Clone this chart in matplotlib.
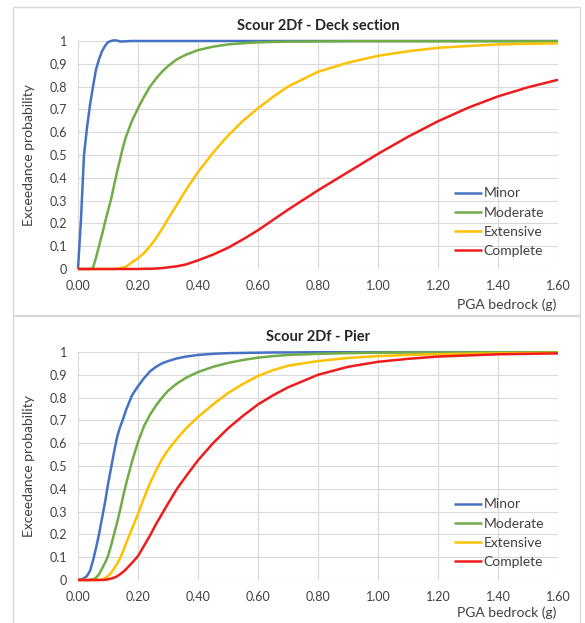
import matplotlib.pyplot as plt
from matplotlib.patches import Rectangle

plt.rcParams['font.family'] = ['Lato', 'DejaVu Sans']

# PGA bedrock (g) sample points
pga = [0, 0.01, 0.02, 0.03, 0.04, 0.05, 0.06, 0.07, 0.08, 0.09, 0.10, 0.11, 0.12,
       0.13, 0.14, 0.15, 0.16, 0.18, 0.20, 0.22, 0.24, 0.26, 0.28, 0.30, 0.33,
       0.36, 0.40, 0.45, 0.50, 0.55, 0.60, 0.65, 0.70, 0.80, 0.90, 1.00, 1.10,
       1.20, 1.30, 1.40, 1.50, 1.60]

# Deck section exceedance probabilities
deck_minor = [0, 0.22, 0.50, 0.62, 0.72, 0.80, 0.875, 0.92, 0.955, 0.978, 0.995, 1.0,
              1.003, 1.002, 0.998, 0.998, 0.999] + [1.0] * 25
deck_moderate = [0, 0, 0, 0, 0, 0.005, 0.05, 0.10, 0.15, 0.205, 0.255, 0.305, 0.365,
                 0.425, 0.48, 0.535, 0.58, 0.65, 0.705, 0.755, 0.80, 0.835, 0.865, 0.89,
                 0.92, 0.94, 0.96, 0.975, 0.985, 0.99, 0.994, 0.996, 0.997, 0.998, 0.999,
                 0.999, 0.999, 0.999, 0.999, 0.999, 0.999, 0.999]
deck_extensive = [0] * 13 + [0.001, 0.003, 0.006, 0.01, 0.03, 0.047, 0.07, 0.10, 0.135,
                             0.175, 0.22, 0.283, 0.347, 0.425, 0.51, 0.585, 0.65, 0.705,
                             0.755, 0.80, 0.865, 0.905, 0.935, 0.955, 0.97, 0.978, 0.985,
                             0.988, 0.99]
deck_complete = [0] * 19 + [0.001, 0.001, 0.002, 0.004, 0.007, 0.012, 0.02, 0.038, 0.063,
                            0.093, 0.13, 0.17, 0.215, 0.26, 0.345, 0.425, 0.505, 0.58,
                            0.648, 0.707, 0.757, 0.797, 0.83]

# Pier exceedance probabilities
pier_minor = [0, 0.003, 0.008, 0.018, 0.04, 0.085, 0.14, 0.20, 0.27, 0.34, 0.42, 0.49,
              0.56, 0.625, 0.67, 0.705, 0.745, 0.81, 0.85, 0.885, 0.915, 0.935, 0.95,
              0.96, 0.972, 0.98, 0.987, 0.992, 0.995, 0.996, 0.997, 0.998, 0.998] + [0.999] * 9
pier_moderate = [0, 0, 0, 0, 0, 0.003, 0.01, 0.025, 0.05, 0.075, 0.105, 0.15, 0.20,
                 0.25, 0.305, 0.365, 0.42, 0.52, 0.605, 0.675, 0.725, 0.765, 0.80, 0.83,
                 0.862, 0.887, 0.912, 0.935, 0.952, 0.965, 0.975, 0.982, 0.987, 0.992,
                 0.995, 0.997, 0.998, 0.998, 0.998, 0.999, 0.999, 0.999]
pier_extensive = [0] * 7 + [0.001, 0.003, 0.008, 0.018, 0.03, 0.05, 0.07, 0.095, 0.125,
                            0.16, 0.225, 0.29, 0.36, 0.425, 0.48, 0.53, 0.57, 0.62, 0.665,
                            0.715, 0.77, 0.82, 0.86, 0.895, 0.92, 0.94, 0.96, 0.974,
                            0.982, 0.987, 0.99, 0.992, 0.994, 0.995, 0.996]
pier_complete = [0] * 9 + [0.001, 0.003, 0.006, 0.01, 0.016, 0.025, 0.035, 0.047, 0.075,
                           0.105, 0.15, 0.195, 0.245, 0.29, 0.335, 0.40, 0.455, 0.525, 0.60,
                           0.665, 0.72, 0.77, 0.81, 0.845, 0.90, 0.935, 0.957, 0.97, 0.98,
                           0.985, 0.99, 0.992, 0.994]

labels = ['Minor', 'Moderate', 'Extensive', 'Complete']
colors = ['#4472C4', '#70AD47', '#FFC000', '#EE1C1C']
x_ticks = [0, 0.2, 0.4, 0.6, 0.8, 1.0, 1.2, 1.4, 1.6]
y_ticks = [0, 0.1, 0.2, 0.3, 0.4, 0.5, 0.6, 0.7, 0.8, 0.9, 1.0]

W, H = 585, 623
fig = plt.figure(figsize=(W / 100, H / 100), dpi=100)

# panel frames
for top, bot in [(7, 315), (316, 640)]:
    fig.add_artist(Rectangle((13 / W, 1 - bot / H), (580 - 13) / W, (bot - top) / H,
                             transform=fig.transFigure, fill=False,
                             edgecolor='#d9d9d9', lw=1))

panels = [
    ('Scour 2Df - Deck section', 269, 305,
     [deck_minor, deck_moderate, deck_extensive, deck_complete]),
    ('Scour 2Df - Pier', 580, 613,
     [pier_minor, pier_moderate, pier_extensive, pier_complete]),
]

for title, ybot, ylab, series in panels:
    ax = fig.add_axes([78 / W, 1 - ybot / H, 480 / W, 228 / H])
    for vals, lab, c in zip(series, labels, colors):
        ax.plot(pga, vals, color=c, lw=1.8, label=lab, clip_on=False,
                solid_capstyle='butt', solid_joinstyle='round')
    ax.set_xlim(0, 1.6)
    ax.set_ylim(0, 1)
    ax.set_xticks(x_ticks)
    ax.set_xticklabels(['%.2f' % v for v in x_ticks])
    ax.set_yticks(y_ticks)
    ax.set_yticklabels(['0'] + ['%.1f' % v for v in y_ticks[1:-1]] + ['1'])
    ax.tick_params(length=0, labelsize=9, colors='#404040', pad=8)
    ax.grid(True, color='#d9d9d9', lw=0.8)
    ax.set_axisbelow(True)
    for s in ax.spines.values():
        s.set_visible(False)
    ax.set_title(title, fontsize=10.5, fontweight='bold', pad=8, color='#262626')
    ax.legend(loc='lower left', bbox_to_anchor=(0.784, 0.052), frameon=False,
              fontsize=10, handlelength=2.0, handletextpad=0.1, labelspacing=0.52,
              borderpad=0, borderaxespad=0, labelcolor='#404040')
    fig.text(556 / W, 1 - ylab / H, 'PGA bedrock (g)', ha='right', va='center',
             fontsize=10, color='#404040')
    fig.text(29 / W, 1 - (ybot - 114) / H, 'Exceedance probability', rotation=90,
             ha='center', va='center', fontsize=10, color='#404040')

fig.savefig('out.png', dpi=100)
